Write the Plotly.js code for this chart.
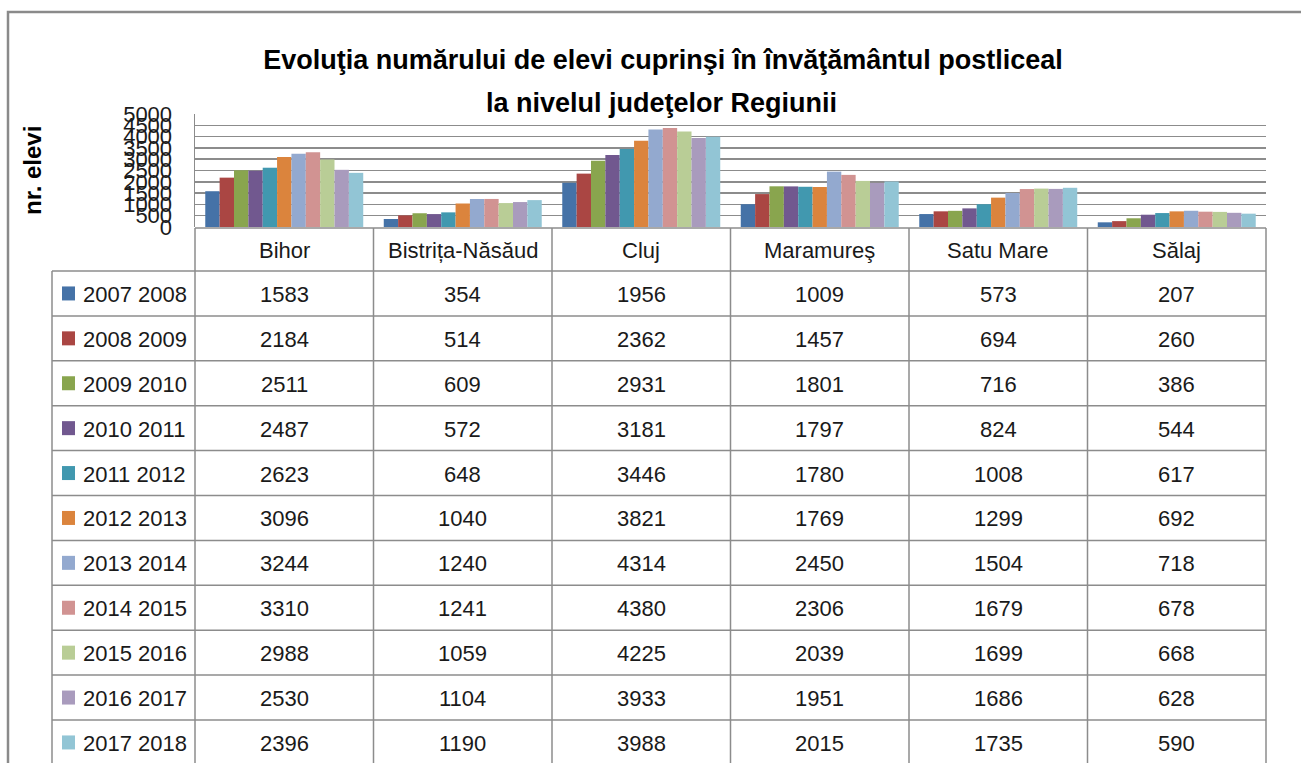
<!DOCTYPE html>
<html>
<head>
<meta charset="utf-8">
<script src="https://cdn.plot.ly/plotly-3.0.1.min.js"></script>
<style>
  html, body { margin: 0; padding: 0; background: #fff; }
  #chart { width: 1301px; height: 763px; }
</style>
</head>
<body>
<div id="chart"></div>
<script>
// ---- data ----
const counties = ["Bihor", "Bistrița-Năsăud", "Cluj", "Maramureş", "Satu Mare", "Sălaj"];
const years = ["2007 2008", "2008 2009", "2009 2010", "2010 2011", "2011 2012", "2012 2013",
               "2013 2014", "2014 2015", "2015 2016", "2016 2017", "2017 2018"];
const y2007 = [1583, 354, 1956, 1009, 573, 207];
const y2008 = [2184, 514, 2362, 1457, 694, 260];
const y2009 = [2511, 609, 2931, 1801, 716, 386];
const y2010 = [2487, 572, 3181, 1797, 824, 544];
const y2011 = [2623, 648, 3446, 1780, 1008, 617];
const y2012 = [3096, 1040, 3821, 1769, 1299, 692];
const y2013 = [3244, 1240, 4314, 2450, 1504, 718];
const y2014 = [3310, 1241, 4380, 2306, 1679, 678];
const y2015 = [2988, 1059, 4225, 2039, 1699, 668];
const y2016 = [2530, 1104, 3933, 1951, 1686, 628];
const y2017 = [2396, 1190, 3988, 2015, 1735, 590];
const series = [y2007, y2008, y2009, y2010, y2011, y2012, y2013, y2014, y2015, y2016, y2017];
const colors = ["#4572A7", "#AA4643", "#89A54E", "#71588F", "#4198AF", "#DB843D",
                "#93A9CF", "#D19392", "#B9CD96", "#A99BBD", "#92C5D5"];
const yTicks = [0, 500, 1000, 1500, 2000, 2500, 3000, 3500, 4000, 4500, 5000];
const titleLines = ["Evoluţia numărului de elevi cuprinşi în învăţământul postliceal",
                    "la nivelul judeţelor Regiunii"];

// ---- layout geometry (pixels) ----
const W = 1301, H = 763;
const L = 195, R = 1266, T = 114, B = 227;
const FONT = '"Liberation Sans", Arial, sans-serif';
const GRID = "#8c8c8c";
const px = p => (p - L) / (R - L);
const py = p => (B - p) / (B - T);

const traces = series.map((vals, i) => ({
  type: "bar",
  x: counties,
  y: vals,
  name: years[i],
  marker: { color: colors[i], line: { width: 0 } },
  hoverinfo: "x+y+name"
}));

const shapes = [];
const annotations = [];
const line = (x0, y0, x1, y1, w, c) => shapes.push({
  type: "line", xref: "paper", yref: "paper",
  x0: px(x0), y0: py(y0), x1: px(x1), y1: py(y1),
  line: { color: c || GRID, width: w || 1.5 }
});

// outer frame
shapes.push({ type: "rect", xref: "paper", yref: "paper",
  x0: px(8), y0: py(12), x1: px(1310), y1: py(780),
  line: { color: "#8a8a8a", width: 2.5 } });

// table geometry
const headTop = 228, headBot = 271, rowH = 44.9;
const colW = (R - L) / counties.length;
const labelLeft = 52;
line(L, headTop, R, headTop);
line(labelLeft, headBot, R, headBot);
for (let k = 1; k < years.length; k++) {
  const yy = headBot + rowH * k;
  line(labelLeft, yy, R, yy);
}
line(labelLeft, headBot, labelLeft, H + 10);
for (let j = 0; j <= counties.length; j++) {
  const xx = L + colW * j;
  line(xx, headTop, xx, H + 10);
}

const cellFont = { family: FONT, size: 22, color: "#1a1a1a" };
counties.forEach((c, j) => {
  annotations.push({ xref: "paper", yref: "paper", x: px(L + colW * (j + 0.5)), y: py((headTop + headBot) / 2 + 1),
    text: c, showarrow: false, xanchor: "center", yanchor: "middle", font: cellFont });
});
years.forEach((yr, i) => {
  const cy = headBot + rowH * (i + 0.5);
  shapes.push({ type: "rect", xref: "paper", yref: "paper",
    x0: px(62), x1: px(75), y0: py(cy - 7), y1: py(cy + 7),
    fillcolor: colors[i], line: { width: 0 } });
  annotations.push({ xref: "paper", yref: "paper", x: px(81), y: py(cy + 1),
    text: yr, showarrow: false, xanchor: "left", yanchor: "middle", font: cellFont });
  series[i].forEach((v, j) => {
    annotations.push({ xref: "paper", yref: "paper", x: px(L + colW * (j + 0.5)), y: py(cy + 1),
      text: String(v), showarrow: false, xanchor: "center", yanchor: "middle", font: cellFont });
  });
});

// y-axis title
annotations.push({ xref: "paper", yref: "paper", x: px(32), y: py(171),
  text: "<b>nr. elevi</b>", showarrow: false, textangle: -90, xanchor: "center", yanchor: "middle",
  font: { family: FONT, size: 24, color: "#000" } });

// second title line
annotations.push({ xref: "paper", yref: "paper", x: px(661), y: py(103),
  text: "<b>" + titleLines[1] + "</b>", showarrow: false, xanchor: "center", yanchor: "middle",
  font: { family: FONT, size: 27, color: "#000" } });

const layout = {
  width: W, height: H,
  margin: { l: L, r: W - R, t: T, b: H - B, pad: 0 },
  paper_bgcolor: "#ffffff", plot_bgcolor: "#ffffff",
  showlegend: false,
  barmode: "group",
  bargap: 0.115,
  bargroupgap: 0,
  title: {
    text: "<b>" + titleLines[0] + "</b>",
    font: { family: FONT, size: 27, color: "#000" },
    x: 663 / W, xanchor: "center", xref: "container",
    y: 1 - 60 / H, yanchor: "middle", yref: "container"
  },
  xaxis: {
    type: "category",
    showticklabels: false,
    showgrid: false,
    zeroline: false,
    showline: false,
    ticks: "",
    fixedrange: true
  },
  yaxis: {
    range: [0, 5000],
    tickmode: "array",
    tickvals: yTicks,
    ticktext: yTicks.map(String),
    showgrid: true,
    gridcolor: GRID,
    gridwidth: 1.5,
    zeroline: false,
    showline: true,
    linecolor: GRID,
    linewidth: 1.5,
    ticks: "",
    ticklabelstandoff: 17,
    tickfont: { family: FONT, size: 22, color: "#1a1a1a" },
    fixedrange: true
  },
  shapes: shapes,
  annotations: annotations
};

Plotly.newPlot("chart", traces, layout, { displayModeBar: false, staticPlot: true });
</script>
</body>
</html>
